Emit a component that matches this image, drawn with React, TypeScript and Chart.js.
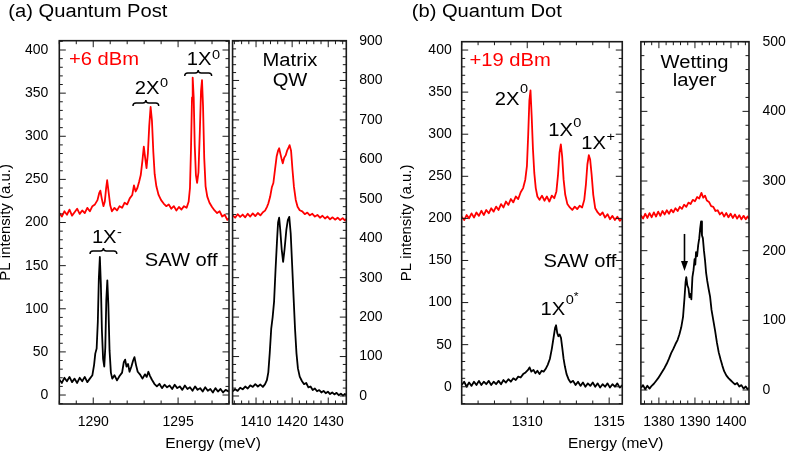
import React, { useEffect, useRef } from 'react';
import { Chart, registerables } from 'chart.js';

Chart.register(...registerables);

const FONT = "'Liberation Sans', Arial, Helvetica, sans-serif";
const RED = '#ff0000';
const BLACK = '#000000';
const FRAME = '#1a1a1a';
const H = 451;

type Pt = [number, number];

// ---------------- DATA (energy meV, PL intensity a.u.) ----------------
// (a) Quantum post, QD window, SAW on (+6 dBm)
const qpSawOn: Pt[] = [
  [1288.0, 211], [1288.15, 207], [1288.3, 213], [1288.45, 209], [1288.6, 215], [1288.75, 208], [1288.9, 212],
  [1289.05, 216], [1289.2, 210], [1289.35, 214], [1289.5, 211], [1289.65, 217], [1289.8, 213], [1289.95, 219],
  [1290.1, 221], [1290.25, 226], [1290.35, 234], [1290.42, 237], [1290.5, 228], [1290.6, 219], [1290.68, 224],
  [1290.76, 240], [1290.82, 249], [1290.9, 236], [1291.0, 220], [1291.1, 213], [1291.25, 217], [1291.4, 214],
  [1291.55, 219], [1291.7, 217], [1291.85, 223], [1292.0, 221], [1292.15, 228], [1292.3, 232], [1292.4, 243],
  [1292.5, 236], [1292.6, 240], [1292.7, 247], [1292.8, 255], [1292.9, 272], [1292.98, 288], [1293.06, 275],
  [1293.14, 263], [1293.22, 280], [1293.3, 312], [1293.38, 334], [1293.46, 318], [1293.54, 282], [1293.62, 256],
  [1293.72, 242], [1293.85, 232], [1294.0, 226], [1294.15, 222], [1294.3, 219], [1294.45, 221], [1294.6, 216],
  [1294.75, 219], [1294.9, 214], [1295.05, 218], [1295.2, 215], [1295.35, 219], [1295.5, 217], [1295.62, 224],
  [1295.7, 240], [1295.76, 285], [1295.82, 345], [1295.86, 368], [1295.92, 345], [1295.98, 290], [1296.05, 255],
  [1296.12, 246], [1296.2, 258], [1296.28, 305], [1296.35, 352], [1296.41, 365], [1296.47, 335], [1296.54, 275],
  [1296.62, 242], [1296.72, 230], [1296.85, 223], [1297.0, 218], [1297.15, 214], [1297.3, 211], [1297.45, 213],
  [1297.6, 207], [1297.75, 209], [1297.9, 203], [1298.0, 205],
];
// (a) Quantum post, QD window, SAW off
const qpSawOff: Pt[] = [
  [1288.0, 18], [1288.15, 14], [1288.3, 20], [1288.45, 16], [1288.6, 21], [1288.75, 15], [1288.9, 19],
  [1289.05, 14], [1289.2, 20], [1289.35, 16], [1289.5, 21], [1289.65, 15], [1289.8, 19], [1289.95, 23],
  [1290.05, 35], [1290.12, 48], [1290.2, 54], [1290.27, 85], [1290.33, 135], [1290.39, 160], [1290.45, 128],
  [1290.51, 75], [1290.58, 42], [1290.65, 33], [1290.71, 55], [1290.77, 110], [1290.83, 133], [1290.89, 105],
  [1290.96, 52], [1291.04, 26], [1291.12, 19], [1291.25, 23], [1291.4, 17], [1291.55, 22], [1291.7, 26],
  [1291.8, 38], [1291.88, 41], [1291.96, 33], [1292.05, 36], [1292.14, 27], [1292.25, 33], [1292.35, 40],
  [1292.43, 44], [1292.52, 35], [1292.62, 27], [1292.75, 24], [1292.9, 19], [1293.05, 24], [1293.15, 21],
  [1293.25, 27], [1293.35, 22], [1293.45, 18], [1293.6, 13], [1293.75, 10], [1293.9, 13], [1294.05, 8],
  [1294.2, 12], [1294.35, 9], [1294.5, 11], [1294.65, 7], [1294.8, 12], [1294.95, 8], [1295.1, 10],
  [1295.25, 6], [1295.4, 11], [1295.55, 7], [1295.7, 9], [1295.85, 5], [1296.0, 10], [1296.15, 6],
  [1296.3, 8], [1296.45, 4], [1296.6, 9], [1296.75, 5], [1296.9, 7], [1297.05, 3], [1297.2, 8],
  [1297.35, 4], [1297.5, 7], [1297.65, 3], [1297.8, 6], [1298.0, 4],
];
// (a) Matrix QW, SAW on
const qwSawOn: Pt[] = [
  [1403.5, 458], [1404.2, 452], [1404.9, 461], [1405.6, 454], [1406.3, 460], [1407.0, 453], [1407.7, 462],
  [1408.4, 455], [1409.1, 463], [1409.8, 456], [1410.5, 464], [1411.2, 458], [1411.9, 466], [1412.5, 470],
  [1413.0, 479], [1413.4, 488], [1413.9, 505], [1414.4, 530], [1414.8, 540], [1415.2, 570], [1415.7, 607],
  [1416.1, 622], [1416.4, 628], [1416.8, 612], [1417.1, 600], [1417.4, 590], [1417.8, 604], [1418.2, 610],
  [1418.6, 622], [1419.0, 630], [1419.3, 636], [1419.7, 622], [1420.1, 573], [1420.5, 530], [1421.0, 497],
  [1421.5, 480], [1422.1, 471], [1422.8, 468], [1423.5, 461], [1424.2, 465], [1424.9, 458], [1425.6, 462],
  [1426.3, 455], [1427.0, 459], [1427.7, 452], [1428.4, 457], [1429.1, 450], [1429.8, 455], [1430.5, 448],
  [1431.2, 453], [1431.9, 447], [1432.6, 452], [1433.3, 446], [1434.0, 451], [1434.6, 445], [1435.0, 449],
];
// (a) Matrix QW, SAW off
const qwSawOff: Pt[] = [
  [1403.5, 12], [1404.2, 17], [1404.9, 13], [1405.6, 21], [1406.3, 17], [1407.0, 24], [1407.7, 19],
  [1408.4, 27], [1409.1, 23], [1409.8, 30], [1410.5, 24], [1411.2, 29], [1411.9, 23], [1412.5, 30],
  [1413.0, 40], [1413.4, 60], [1413.8, 110], [1414.2, 170], [1414.6, 200], [1415.0, 240], [1415.4, 320],
  [1415.8, 392], [1416.1, 440], [1416.4, 452], [1416.7, 422], [1417.1, 372], [1417.5, 340], [1417.9, 372],
  [1418.4, 422], [1418.8, 446], [1419.2, 454], [1419.6, 412], [1420.0, 332], [1420.4, 250], [1420.8, 170],
  [1421.2, 108], [1421.6, 70], [1422.1, 49], [1422.7, 38], [1423.3, 30], [1423.9, 33], [1424.5, 22],
  [1425.1, 24], [1425.7, 15], [1426.3, 19], [1426.9, 12], [1427.5, 15], [1428.1, 9], [1428.7, 13],
  [1429.3, 7], [1429.9, 11], [1430.5, 5], [1431.1, 9], [1431.7, 4], [1432.3, 8], [1432.9, 2],
  [1433.5, 6], [1434.1, 1], [1434.6, 5], [1435.0, 2],
];
// (b) Quantum dot, SAW on (+19 dBm)
const qdSawOn: Pt[] = [
  [1306.0, 202], [1306.15, 198], [1306.3, 204], [1306.45, 200], [1306.6, 206], [1306.75, 201], [1306.9, 207],
  [1307.05, 203], [1307.2, 209], [1307.35, 204], [1307.5, 210], [1307.65, 206], [1307.8, 212], [1307.95, 208],
  [1308.1, 214], [1308.25, 210], [1308.4, 217], [1308.55, 213], [1308.7, 220], [1308.85, 216], [1309.0, 223],
  [1309.15, 219], [1309.3, 226], [1309.45, 223], [1309.6, 231], [1309.75, 236], [1309.88, 246], [1309.98, 262],
  [1310.06, 300], [1310.13, 340], [1310.2, 352], [1310.27, 322], [1310.35, 282], [1310.43, 254], [1310.52, 236],
  [1310.62, 226], [1310.75, 222], [1310.9, 227], [1311.05, 221], [1311.2, 226], [1311.35, 220], [1311.5, 227],
  [1311.65, 224], [1311.78, 232], [1311.88, 252], [1311.97, 278], [1312.05, 288], [1312.13, 274], [1312.22, 246],
  [1312.32, 228], [1312.45, 217], [1312.6, 213], [1312.75, 210], [1312.9, 214], [1313.05, 211], [1313.2, 215],
  [1313.35, 213], [1313.48, 222], [1313.58, 240], [1313.67, 264], [1313.76, 275], [1313.84, 270], [1313.93, 252],
  [1314.03, 228], [1314.15, 212], [1314.3, 207], [1314.45, 204], [1314.6, 207], [1314.75, 201], [1314.9, 205],
  [1315.05, 199], [1315.2, 203], [1315.35, 198], [1315.5, 202], [1315.65, 197], [1315.8, 200],
];
// (b) Quantum dot, SAW off
const qdSawOff: Pt[] = [
  [1306.0, 2], [1306.15, 6], [1306.3, 0], [1306.45, 5], [1306.6, 1], [1306.75, 6], [1306.9, 2],
  [1307.05, 7], [1307.2, 2], [1307.35, 6], [1307.5, 3], [1307.65, 7], [1307.8, 2], [1307.95, 6],
  [1308.1, 3], [1308.25, 7], [1308.4, 3], [1308.55, 8], [1308.7, 5], [1308.85, 9], [1309.0, 6],
  [1309.15, 10], [1309.3, 8], [1309.45, 12], [1309.6, 11], [1309.75, 15], [1309.9, 17], [1310.05, 20],
  [1310.14, 23], [1310.25, 18], [1310.38, 20], [1310.5, 16], [1310.62, 19], [1310.75, 15], [1310.88, 19],
  [1311.0, 18], [1311.12, 21], [1311.25, 26], [1311.38, 33], [1311.5, 45], [1311.62, 60], [1311.7, 70],
  [1311.76, 73], [1311.83, 64], [1311.9, 60], [1311.98, 62], [1312.06, 58], [1312.14, 46], [1312.22, 33],
  [1312.3, 24], [1312.4, 15], [1312.52, 9], [1312.65, 5], [1312.8, 7], [1312.95, 2], [1313.1, 6],
  [1313.25, 1], [1313.4, 5], [1313.55, 0], [1313.7, 4], [1313.85, 1], [1314.0, 5], [1314.15, 0],
  [1314.3, 4], [1314.45, -1], [1314.6, 3], [1314.75, 0], [1314.9, 4], [1315.05, -1], [1315.2, 3],
  [1315.35, 0], [1315.5, 4], [1315.65, -1], [1315.8, 2],
];
// (b) Wetting layer, SAW on
const wlSawOn: Pt[] = [
  [1375.0, 251], [1375.6, 246], [1376.2, 253], [1376.8, 247], [1377.4, 254], [1378.0, 248], [1378.6, 255],
  [1379.2, 249], [1379.8, 256], [1380.4, 250], [1381.0, 257], [1381.6, 252], [1382.2, 258], [1382.8, 253],
  [1383.4, 259], [1384.0, 255], [1384.6, 261], [1385.2, 257], [1385.8, 263], [1386.4, 260], [1387.0, 266],
  [1387.6, 263], [1388.2, 269], [1388.8, 267], [1389.4, 273], [1390.0, 271], [1390.6, 277], [1391.2, 275],
  [1391.8, 283], [1392.3, 276], [1392.8, 279], [1393.3, 272], [1393.9, 270], [1394.5, 264], [1395.1, 263],
  [1395.7, 257], [1396.3, 258], [1396.9, 252], [1397.5, 255], [1398.1, 249], [1398.7, 254], [1399.3, 248],
  [1399.9, 253], [1400.5, 247], [1401.1, 252], [1401.7, 246], [1402.3, 251], [1402.9, 245], [1403.5, 250],
  [1404.1, 245], [1404.6, 249], [1405.0, 246],
];
// (b) Wetting layer, SAW off
const wlSawOff: Pt[] = [
  [1375.0, 3], [1375.6, 7], [1376.2, 1], [1376.8, 6], [1377.4, 2], [1378.0, 6], [1378.6, 9],
  [1379.2, 13], [1379.8, 17], [1380.4, 22], [1381.0, 27], [1381.6, 32], [1382.2, 38], [1382.8, 45],
  [1383.4, 53], [1384.0, 59], [1384.6, 66], [1385.2, 72], [1385.7, 80], [1386.2, 90], [1386.7, 105],
  [1387.1, 132], [1387.4, 155], [1387.6, 162], [1387.9, 150], [1388.2, 146], [1388.5, 133], [1388.8, 138],
  [1389.0, 130], [1389.3, 162], [1389.6, 172], [1389.9, 188], [1390.1, 180], [1390.3, 198], [1390.6, 192],
  [1390.9, 208], [1391.2, 218], [1391.45, 232], [1391.7, 242], [1391.95, 222], [1392.2, 218], [1392.5, 200],
  [1392.8, 186], [1393.1, 168], [1393.4, 157], [1393.8, 145], [1394.2, 134], [1394.6, 115], [1395.1, 100],
  [1395.6, 85], [1396.1, 68], [1396.6, 54], [1397.1, 44], [1397.6, 35], [1398.1, 27], [1398.7, 21],
  [1399.3, 17], [1399.9, 14], [1400.5, 11], [1401.1, 8], [1401.7, 10], [1402.3, 5], [1402.9, 7],
  [1403.5, 2], [1404.1, 5], [1404.6, 1], [1405.0, 3],
];

// tick labels
const qpXTicks = [1290, 1295];
const qwXTicks = [1410, 1420, 1430];
const qdXTicks = [1310, 1315];
const wlXTicks = [1380, 1390, 1400];
const leftYTicks = [0, 50, 100, 150, 200, 250, 300, 350, 400];
const qwYTicks = [0, 100, 200, 300, 400, 500, 600, 700, 800, 900];
const wlYTicks = [0, 100, 200, 300, 400, 500];

// ---------------- layout / styling ----------------
interface Label { x: number; y: number; text: string; sup?: string; sup2?: string; raise?: number; color?: string; align?: 'left' | 'center'; }
interface Brace { x1: number; x2: number; y: number; }
interface Arrow { x: number; y1: number; y2: number; }
interface PanelCfg {
  key: string;
  canvasLeft: number; canvasWidth: number;
  padding: { left: number; right: number; top: number; bottom: number };
  xMin: number; xMax: number; xTicks: number[]; xMinor: number;
  yMin: number; yMax: number; yTicks: number[]; yMinor: number;
  ySide: 'left' | 'right'; yWidth: number; yPad: number;
  series: { pts: Pt[]; color: string }[];
  labels: Label[]; braces: Brace[]; arrows: Arrow[];
  title?: { text: string; x: number; y: number };
  yTitle?: { text: string; x: number };
}

const LABEL_SIZE = 18;
const SUP_SIZE = 13;
const SX = 1.12;

const panels: PanelCfg[] = [
  {
    key: 'qp', canvasLeft: 0, canvasWidth: 232,
    padding: { left: 0, right: 3, top: 40.7, bottom: 0 },
    xMin: 1288, xMax: 1298, xTicks: qpXTicks, xMinor: 1,
    yMin: -10.4, yMax: 410.8, yTicks: leftYTicks, yMinor: 10,
    ySide: 'left', yWidth: 59.3, yPad: 11,
    series: [{ pts: qpSawOn, color: RED }, { pts: qpSawOff, color: BLACK }],
    labels: [
      { x: 1288.57, y: 382.6, text: '+6 dBm', color: RED },
      { x: 1292.45, y: 349, text: '2X', sup: '0', raise: 7 },
      { x: 1295.51, y: 382.6, text: '1X', sup: '0', raise: 6 },
      { x: 1289.92, y: 176.6, text: '1X', sup: '-', raise: 7 },
      { x: 1293.04, y: 150, text: 'SAW off' },
    ],
    braces: [
      { x1: 1292.34, x2: 1293.86, y: 342 },
      { x1: 1295.39, x2: 1296.98, y: 376.8 },
      { x1: 1289.81, x2: 1291.39, y: 170.4 },
    ],
    arrows: [],
    title: { text: '(a) Quantum Post', x: 8.3, y: 16.7 },
    yTitle: { text: 'PL intensity (a.u.)', x: 10 },
  },
  {
    key: 'qw', canvasLeft: 230, canvasWidth: 170,
    padding: { left: 2.3, right: 0, top: 40.7, bottom: 0 },
    xMin: 1403.5, xMax: 1435, xTicks: qwXTicks, xMinor: 2,
    yMin: -20.3, yMax: 900.8, yTicks: qwYTicks, yMinor: 20,
    ySide: 'right', yWidth: 53.7, yPad: 13,
    series: [{ pts: qwSawOn, color: RED }, { pts: qwSawOff, color: BLACK }],
    labels: [
      { x: 1419.4, y: 837.5, text: 'Matrix', align: 'center' },
      { x: 1419.4, y: 786, text: 'QW', align: 'center' },
    ],
    braces: [], arrows: [],
  },
  {
    key: 'qd', canvasLeft: 400, canvasWidth: 235,
    padding: { left: 0, right: 3.3, top: 41.7, bottom: 0 },
    xMin: 1306, xMax: 1315.8, xTicks: qdXTicks, xMinor: 1,
    yMin: -20.5, yMax: 409.9, yTicks: leftYTicks, yMinor: 10,
    ySide: 'left', yWidth: 61.7, yPad: 10,
    series: [{ pts: qdSawOn, color: RED }, { pts: qdSawOff, color: BLACK }],
    labels: [
      { x: 1306.48, y: 380.9, text: '+19 dBm', color: RED },
      { x: 1308.02, y: 334.6, text: '2X', sup: '0', raise: 12 },
      { x: 1311.28, y: 297.7, text: '1X', sup: '0', raise: 9 },
      { x: 1313.3, y: 283, text: '1X', sup: '+', raise: 8 },
      { x: 1310.99, y: 142.5, text: 'SAW off' },
      { x: 1310.81, y: 85.2, text: '1X', sup: '0', sup2: '*', raise: 11 },
    ],
    braces: [], arrows: [],
    title: { text: '(b) Quantum Dot', x: 11.7, y: 16.7 },
    yTitle: { text: 'PL intensity (a.u.)', x: 10.5 },
  },
  {
    key: 'wl', canvasLeft: 633, canvasWidth: 156,
    padding: { left: 2, right: 0, top: 41.7, bottom: 0 },
    xMin: 1375, xMax: 1405, xTicks: wlXTicks, xMinor: 2,
    yMin: -20.1, yMax: 500, yTicks: wlYTicks, yMinor: 20,
    ySide: 'right', yWidth: 40, yPad: 13.5,
    series: [{ pts: wlSawOn, color: RED }, { pts: wlSawOff, color: BLACK }],
    labels: [
      { x: 1389.9, y: 462.9, text: 'Wetting', align: 'center' },
      { x: 1389.9, y: 435.7, text: 'layer', align: 'center' },
    ],
    braces: [],
    arrows: [{ x: 1387.1, y1: 224, y2: 171 }],
  },
];

function drawStretched(ctx: CanvasRenderingContext2D, t: string, x: number, y: number, size: number, color: string, align: 'left' | 'center' = 'left') {
  ctx.save();
  ctx.font = `${size}px ${FONT}`;
  ctx.fillStyle = color;
  ctx.textBaseline = 'alphabetic';
  ctx.textAlign = 'left';
  const w = ctx.measureText(t).width * SX;
  const x0 = align === 'center' ? x - w / 2 : x;
  ctx.translate(x0, y);
  ctx.scale(SX, 1);
  ctx.fillText(t, 0, 0);
  ctx.restore();
  return w;
}

function minorValues(min: number, max: number, step: number, majors: number[]) {
  const out: number[] = [];
  const k0 = Math.ceil(min / step - 1e-9);
  const k1 = Math.floor(max / step + 1e-9);
  for (let k = k0; k <= k1; k++) {
    const v = k * step;
    if (!majors.some((m) => Math.abs(m - v) < step * 1e-3)) out.push(v);
  }
  return out;
}

function makeDecor(p: PanelCfg) {
  return {
    id: 'decor_' + p.key,
    afterDraw(chart: any) {
      const { ctx, chartArea: a } = chart;
      const xs = chart.scales.x;
      const ys = chart.scales.y;
      ctx.save();
      // inward ticks
      ctx.strokeStyle = FRAME;
      ctx.lineWidth = 1;
      const seg = (x1: number, y1: number, x2: number, y2: number) => {
        ctx.beginPath(); ctx.moveTo(x1, y1); ctx.lineTo(x2, y2); ctx.stroke();
      };
      const MAJ = 6.5, MIN = 3.5;
      const xMinors = minorValues(p.xMin, p.xMax, p.xMinor, p.xTicks);
      const yMinors = minorValues(p.yMin, p.yMax, p.yMinor, p.yTicks);
      p.xTicks.forEach((v) => { const px = xs.getPixelForValue(v); seg(px, a.bottom, px, a.bottom - MAJ); seg(px, a.top, px, a.top + MAJ); });
      xMinors.forEach((v) => { const px = xs.getPixelForValue(v); seg(px, a.bottom, px, a.bottom - MIN); seg(px, a.top, px, a.top + MIN); });
      p.yTicks.forEach((v) => { const py = ys.getPixelForValue(v); seg(a.left, py, a.left + MAJ, py); seg(a.right, py, a.right - MAJ, py); });
      yMinors.forEach((v) => { const py = ys.getPixelForValue(v); seg(a.left, py, a.left + MIN, py); seg(a.right, py, a.right - MIN, py); });
      // frame
      ctx.lineWidth = 1.6;
      ctx.strokeRect(a.left, a.top, a.right - a.left, a.bottom - a.top);

      // braces
      ctx.strokeStyle = BLACK;
      ctx.lineWidth = 1.4;
      p.braces.forEach((b) => {
        const x1 = xs.getPixelForValue(b.x1);
        const x2 = xs.getPixelForValue(b.x2);
        const yt = ys.getPixelForValue(b.y);
        const hh = 3;
        const ym = yt + hh;
        const yb = yt + 2 * hh;
        const xm = (x1 + x2) / 2;
        const r = 3;
        ctx.beginPath();
        ctx.moveTo(x1, yb);
        ctx.quadraticCurveTo(x1, ym, x1 + r, ym);
        ctx.lineTo(xm - r, ym);
        ctx.quadraticCurveTo(xm, ym, xm, yt);
        ctx.quadraticCurveTo(xm, ym, xm + r, ym);
        ctx.lineTo(x2 - r, ym);
        ctx.quadraticCurveTo(x2, ym, x2, yb);
        ctx.stroke();
      });
      // arrows
      p.arrows.forEach((ar) => {
        const x = xs.getPixelForValue(ar.x);
        const y1 = ys.getPixelForValue(ar.y1);
        const y2 = ys.getPixelForValue(ar.y2);
        ctx.lineWidth = 1.6;
        ctx.beginPath(); ctx.moveTo(x, y1); ctx.lineTo(x, y2 - 8); ctx.stroke();
        ctx.fillStyle = BLACK;
        ctx.beginPath(); ctx.moveTo(x - 3.5, y2 - 10); ctx.lineTo(x + 3.5, y2 - 10); ctx.lineTo(x, y2); ctx.closePath(); ctx.fill();
      });
      // labels
      p.labels.forEach((l) => {
        const x = xs.getPixelForValue(l.x);
        const y = ys.getPixelForValue(l.y);
        const color = l.color || BLACK;
        const w = drawStretched(ctx, l.text, x, y, LABEL_SIZE, color, l.align || 'left');
        if (l.sup) {
          const raise = l.raise ?? 7;
          const w2 = drawStretched(ctx, l.sup, x + w + 0.5, y - raise, SUP_SIZE, color);
          if (l.sup2) drawStretched(ctx, l.sup2, x + w + w2 + 0.5, y - raise - 4, 11, color);
        }
      });
      // panel title
      if (p.title) drawStretched(ctx, p.title.text, p.title.x, p.title.y, LABEL_SIZE, BLACK);
      // y-axis title
      if (p.yTitle) {
        ctx.save();
        ctx.translate(p.yTitle.x, (a.top + a.bottom) / 2);
        ctx.rotate(-Math.PI / 2);
        ctx.font = `15px ${FONT}`;
        ctx.fillStyle = BLACK;
        ctx.textAlign = 'center';
        ctx.textBaseline = 'alphabetic';
        ctx.fillText(p.yTitle.text, 0, 0);
        ctx.restore();
      }
      ctx.restore();
    },
  };
}

function makeConfig(p: PanelCfg) {
  return {
    type: 'line',
    data: {
      datasets: p.series.map((s) => ({
        data: s.pts.map(([x, y]) => ({ x, y })),
        borderColor: s.color,
        backgroundColor: s.color,
        borderWidth: 1.8,
        borderJoinStyle: 'round',
        pointRadius: 0,
        tension: 0,
        fill: false,
      })),
    },
    options: {
      responsive: false,
      maintainAspectRatio: false,
      animation: false,
      events: [],
      layout: { padding: p.padding },
      plugins: { legend: { display: false }, tooltip: { enabled: false }, title: { display: false } },
      scales: {
        x: {
          type: 'linear', position: 'bottom', min: p.xMin, max: p.xMax,
          afterBuildTicks: (s: any) => { s.ticks = p.xTicks.map((v) => ({ value: v })); },
          afterFit: (s: any) => { s.height = H - 404; },
          ticks: { font: { size: 14, family: FONT }, color: BLACK, padding: 10, maxRotation: 0, autoSkip: false, callback: (v: any) => String(v) },
          grid: { display: false, drawTicks: false },
          border: { display: false },
        },
        y: {
          type: 'linear', position: p.ySide, min: p.yMin, max: p.yMax,
          afterBuildTicks: (s: any) => { s.ticks = p.yTicks.map((v) => ({ value: v })); },
          afterFit: (s: any) => { s.width = p.yWidth; },
          ticks: { font: { size: 14, family: FONT }, color: BLACK, padding: p.yPad, autoSkip: false, callback: (v: any) => String(v) },
          grid: { display: false, drawTicks: false },
          border: { display: false },
        },
      },
    },
    plugins: [makeDecor(p)],
  };
}

function Panel({ cfg }: { cfg: PanelCfg }) {
  const ref = useRef<HTMLCanvasElement | null>(null);
  useEffect(() => {
    if (!ref.current) return;
    const chart = new Chart(ref.current, makeConfig(cfg) as any);
    return () => chart.destroy();
  }, [cfg]);
  return (
    <canvas
      ref={ref}
      width={cfg.canvasWidth}
      height={H}
      style={{ position: 'absolute', left: cfg.canvasLeft, top: 0, width: cfg.canvasWidth, height: H }}
    />
  );
}

const energyTitleStyle: React.CSSProperties = {
  position: 'absolute', top: 435.2, width: 200, textAlign: 'center',
  fontFamily: FONT, fontSize: 15.5, lineHeight: '15.5px', color: BLACK, whiteSpace: 'nowrap',
};

export default function App() {
  return (
    <div style={{ position: 'absolute', left: 0, top: 0, width: 789, height: H, background: '#fff', overflow: 'hidden' }}>
      {panels.map((p) => <Panel key={p.key} cfg={p} />)}
      <div style={{ ...energyTitleStyle, left: 113 }}>Energy (meV)</div>
      <div style={{ ...energyTitleStyle, left: 515.7 }}>Energy (meV)</div>
    </div>
  );
}
